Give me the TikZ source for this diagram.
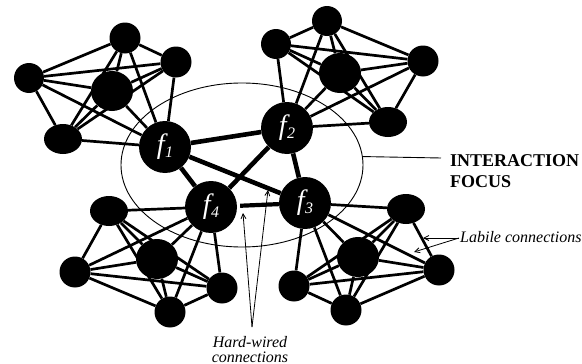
\documentclass[tikz,border=0pt]{standalone}
\usepackage{fontspec}
\setmainfont{Liberation Serif}
\usetikzlibrary{shapes.geometric,arrows.meta,backgrounds}
\newcommand\fsub[1]{{\fontsize{28}{28}\selectfont\itshape f\kern0.5pt\raisebox{-4pt}{\fontsize{16}{16}\selectfont#1}}}
\tikzset{
  nd/.style={circle, fill=black, inner sep=0pt, minimum size=31pt},
  ov/.style={ellipse, fill=black, inner sep=0pt, minimum width=38pt, minimum height=30pt},
  bgn/.style={ellipse, fill=black, inner sep=0pt, minimum width=42pt, minimum height=40pt},
  hub/.style={circle, fill=black, inner sep=0pt, minimum size=52pt, text=white},
  lab/.style={line width=2.7pt},
  hard/.style={line width=4.6pt},
  lbl/.style={font=\itshape\fontsize{16}{16}\selectfont, inner sep=0pt},
  ttl/.style={font=\bfseries\fontsize{18}{18}\selectfont, inner sep=0pt},
  ptr/.style={line width=0.8pt, -{Straight Barb[length=5pt,width=5pt]}},
}
\begin{document}
\begin{tikzpicture}[x=1pt,y=-1pt]
\useasboundingbox (0,0) rectangle (582,364);
% interaction focus
\node[draw, ellipse, line width=0.9pt, inner sep=0pt, minimum width=242pt, minimum height=164pt] (focus) at (242,165) {};
% cluster A
\node[nd] (A1) at (125,38) {};
\node[nd, minimum size=30pt] (A2) at (29,78) {};
\node[nd] (A3) at (176,62) {};
\node[bgn] (A4) at (112,91) {};
\node[ov] (A5) at (63,139) {};
\node[hub] (f1) at (165,147) {\fsub{1}};
% cluster B
\node[nd, minimum size=30pt] (B1) at (327,21) {};
\node[nd, minimum size=30pt] (B2) at (276,44) {};
\node[nd] (B3) at (423,61) {};
\node[bgn] (B4) at (340,73) {};
\node[ov] (B5) at (388,122) {};
\node[hub] (f2) at (287,128) {\fsub{2}};
% cluster C
\node[ov] (C1) at (109,211) {};
\node[nd] (C2) at (75,272) {};
\node[bgn] (C3) at (157,259) {};
\node[nd] (C4) at (222,288) {};
\node[nd] (C5) at (170,312) {};
\node[hub] (f4) at (211,207) {\fsub{4}};
% cluster D
\node[ov] (D1) at (406,209) {};
\node[nd] (D2) at (439,270) {};
\node[bgn] (D3) at (358,257) {};
\node[nd] (D4) at (294,286) {};
\node[nd] (D5) at (346,310) {};
\node[hub] (f3) at (305,203) {\fsub{3}};
\begin{scope}[on background layer]
  \foreach \c/\h in {A/f1,B/f2,C/f4,D/f3}{
    \foreach \i in {1,...,5}{
      \draw[lab] (\c\i) -- (\h);
      \foreach \j in {1,...,5}{\ifnum\j>\i \draw[lab] (\c\i) -- (\c\j);\fi}
    }
  }
  \draw[hard] (f1) -- (f2);
  \draw[hard] (f1) -- (f3);
  \draw[hard] (f1) -- (f4);
  \draw[hard] (f2) -- (f4);
  \draw[hard] (f2) -- (f3);
  \draw[line width=4.2pt, shorten <=3pt] (f4) -- (f3);
\end{scope}
% labels
\coordinate (fl) at (441,158);
\draw[line width=0.9pt] (focus.4) -- (fl);
\node[ttl, anchor=base west] (t1) at (450,166) {INTERACTION};
\node[ttl, anchor=base west] (t2) at (450,187) {FOCUS};
\node[lbl, anchor=base west] (lc) at (460,242) {Labile connections};
\coordinate (lb) at (459,238);
\coordinate (lb1) at (423,238);
\coordinate (lb2) at (414,252);
\draw[ptr] (lb) -- (lb1);
\draw[ptr] (lb) -- (lb2);
\node[lbl, anchor=base] (h1) at (250,347) {Hard-wired};
\node[lbl, anchor=base] (h2) at (250,362) {connections};
\coordinate (hw) at (252,327);
\coordinate (hw1) at (243,213);
\coordinate (hw2) at (268,190);
\draw[ptr] (hw) -- (hw1);
\draw[ptr] (hw) -- (hw2);
\end{tikzpicture}
\end{document}
